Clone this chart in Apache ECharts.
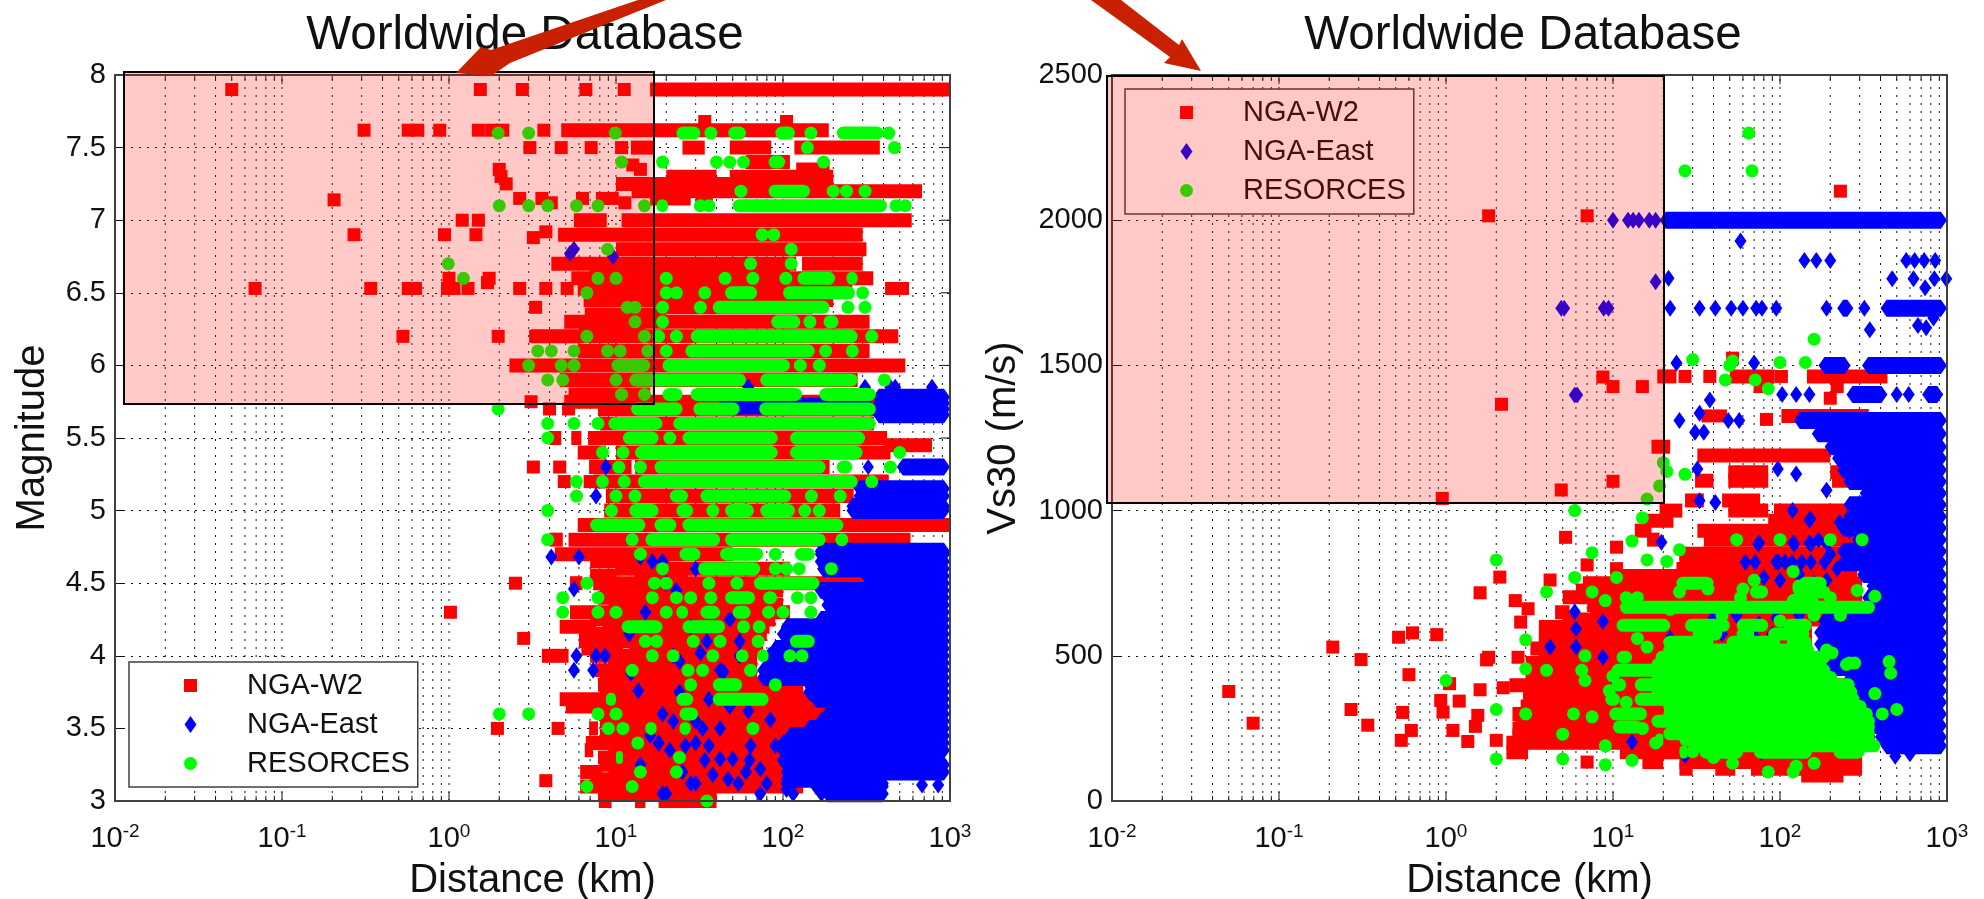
<!DOCTYPE html>
<html><head><meta charset="utf-8">
<style>html,body{margin:0;padding:0;background:#fff}#c{width:1984px;height:899px}</style>
<script src="https://cdn.jsdelivr.net/npm/echarts@6/dist/echarts.min.js"></script>
</head><body><div id="c"></div>
<script>
const seriesNames = ['NGA-W2','NGA-East','RESORCES'];
const titleText = 'Worldwide Database';
const xAxisTitle = 'Distance (km)';
const leftYTitle = 'Magnitude';
const rightYTitle = 'Vs30 (m/s)';
const leftYTicks = [3,3.5,4,4.5,5,5.5,6,6.5,7,7.5,8];
const rightYTicks = [0,500,1000,1500,2000,2500];
const distanceTicks = [0.01,0.02,0.03,0.04,0.05,0.06,0.07,0.08,0.09,0.1,0.2,0.3,0.4,0.5,0.6,0.7,0.8,0.9,1,2,3,4,5,6,7,8,9,10,20,30,40,50,60,70,80,90,100,200,300,400,500,600,700,800,900,1000];

// ---- Left panel: isolated points [distance, magnitude]
const magRedPts = [[.05,7.9],[1.54,7.9],[2.75,7.9],[6.6,7.9],[11.2,7.9],
[.31,7.62],[.57,7.62],[.65,7.62],[.88,7.62],[1.5,7.62],[1.8,7.62],[2.1,7.62],[3.7,7.62],[34,7.68],[105,7.68],
[3.05,7.5],[4.7,7.5],[7.1,7.5],[10.8,7.5],[2,7.35],[2.05,7.3],[2.2,7.25],[12.6,7.38],[14,7.35],[.205,7.14],
[2.65,7.15],[3.6,7.15],[4.1,7.12],[6.3,7.15],[8.3,7.15],[9.5,7.15],[11.3,7.12],
[1.2,7],[1.5,7],[.27,6.9],[.94,6.9],[1.45,6.9],[3.2,6.88],[3.8,6.92],[1,6.6],[1.74,6.6],[1.7,6.57],
[.069,6.53],[.34,6.53],[.57,6.53],[.63,6.53],[.98,6.53],[1.07,6.53],[1.3,6.53],[2.65,6.53],[3.8,6.53],[5.1,6.53],[447,6.53],[520,6.53],
[3.3,6.4],[.53,6.2],[1.97,6.2],[3.3,6.2],[3.1,5.75],[4,5.7],[5.2,5.7],[3.2,5.3],[4.6,5.3],[4.9,5.2],[7,5.2],
[2.5,4.5],[1.02,4.3],[2.8,4.12],[1.95,3.5],[4.5,3.5],[3.8,3.14],[250,4.54],[195,4.48],[230,4.5],[270,4.5],[210,4.52]];
// dense rows seen as continuous bars [magnitude, from km, to km]
const magRedRuns = [[7.9,16,1000],[7.62,4.7,188],[7.5,12.3,17],[7.5,25,34],[7.5,48,85],[7.5,117,380],
[7.4,60,110],[7.35,120,190],[7.3,20,40],[7.3,48,200],[7.25,10,200],[7.2,12.4,680],[7.15,16,28],[7.12,30,38],
[7,5.6,8.8],[7,10.8,590],[6.9,4.5,300],[6.8,10,316],[6.7,4.1,120],[6.7,130,300],[6.65,7,110],[6.6,5.4,347],
[6.53,5.9,260],[6.45,6.4,200],[6.4,20,150],[6.35,6.5,20],[6.3,4.9,330],[6.25,6,15],[6.2,3.1,490],[6.1,5.9,330],[6,2.3,540],
[5.9,4.6,280],[5.8,5.2,16],[5.75,4.9,360],[5.7,7.8,350],[5.6,8,350],[5.5,4,4.7],[5.5,5.4,6.2],[5.5,6.8,420],[5.45,400,780],
[5.4,5.9,8.7],[5.4,10,440],[5.3,6.9,12.4],[5.3,13,190],[5.2,7.3,430],[5.1,8.7,265],[5,8.5,220],[4.9,5.9,1000],
[4.8,4,4.8],[4.8,5.2,580],[4.7,4.3,50],[4.65,7,21],[4.55,7,10],[4.55,13,27],[4.6,10,110],[4.52,185,340],[4.5,5.3,6.3],[4.5,7.3,185],[4.45,8,100],[4.4,7.8,92],[4.35,9,100],[4.3,5.3,110],[4.25,7,90],
[4.2,4.6,7.6],[4.2,8.3,83],[4.15,6,80],[4.1,6,76],[4.05,6.2,11],[4.05,12,76],[4,3.6,5.2],[4,7,70],[3.95,9,70],[3.9,7.5,64],[3.85,8,70],[3.8,7.8,132],[3.75,8,132],[3.7,4.6,145],[3.65,5,360],[3.6,8.4,170],[3.55,8,150],
[3.5,6.9,7.8],[3.5,8.7,132],[3.45,8,110],[3.4,6.6,92],[3.35,6.5,7.3],[3.35,9,92],[3.3,7.8,300],[3.25,8,97],[3.2,6.1,8.3],[3.2,9,102],[3.15,7,102],[3.1,6.1,132],[3.05,7.8,40],[3,7.9,9.4],[3,13,15],[3,18,40]];
const magBluePts = [[62,5.85],[310,5.85],[440,5.85],[470,5.85],[780,5.85],[5.3,6.77],[5.6,6.8],[9.6,6.75],
[8.7,5.3],[7.6,5.1],[4.1,4.68],[6,4.68],[5.6,4.46],[5.8,4],[5.6,3.9],[7.6,4],[7.3,3.9],[8.6,4],[12.3,3.88],[13.6,3.76],
[14,4.68],[15,4.3],[16.5,4.65],[19,4.65],[23,4.45],[19,3.6],[18,3.4],[21,3.35],[26,3.38],[14,3.25],[22,4],[32,4.02],[42,3.9],[42,3.5],[33,3.5],[48,3.65],[62,3.62],
[28,3.12],[54,3.12],[20,3.05],[73,3.22],[105,3.08],[73,3.05],[36,3.38],[64,3.38],[90,3.38],[680,3.11],[850,3.11],[170,3.05],[115,3.05],
[30,3.12],[19,3.05],[42,3.29],[50,3.29],[30,3.4],[18,3.4],[44,3.89],[55,4],[24,3.96],[80,3.12],[105,3.12],[63,3.28],[84,3.56],[34,3.28],[25,3.2],[38,3.18],[47,3.15],[60,3.2],[28,4.2],[35,4.1],[55,4.1],[48,4.25],[20,4.5],[30,4.6],[24,3.75],[36,3.7],[12,4.15],[16,3.45],[22,3.55],[30,3.55]];
const magBlueRuns = [[5.78,345,1000],[5.74,345,1000],[5.7,345,1000],[5.66,345,1000],[5.72,40,350],[5.3,480,1000],[5.3,300,350],[5.15,265,1000],[5.1,265,1000],[5.03,240,1000],[5,240,1000],
[4.72,155,1000],[4.7,155,1000],[4.65,155,1000],[4.6,160,1000],[4.55,290,1000],[4.5,300,1000],[4.45,155,1000],[4.4,170,1000],[4.35,170,1000],[4.3,185,1000],[4.25,155,1000],[4.2,97,1000],[4.15,92,1000],[4.1,185,1000],[4.05,83,1000],[4,76,1000],[3.95,76,1000],[3.9,70,1000],[3.85,70,1000],[3.8,132,1000],[3.75,132,1000],[3.7,145,1000],[3.65,360,1000],[3.6,170,1000],[3.55,155,1000],[3.5,132,1000],[3.45,102,1000],[3.4,92,1000],[3.35,92,1000],[3.3,300,390],[3.28,92,250],[3.25,97,1000],[3.2,97,1000],[3.15,97,160],[3.12,155,430],[3.1,145,430],[3.05,170,430]];
const magGreenPts = [[1.97,7.6],[3,7.6],[9.9,7.6],[37,7.6],[147,7.6],[430,7.6],[140,7.5],[465,7.5],[10.8,7.4],[19,7.4],[40,7.4],[48,7.4],[58,7.4],[175,7.4],
[56,7.2],[200,7.2],[240,7.2],[310,7.2],[2,7.1],[3,7.1],[3.9,7.1],[5.8,7.1],[7.8,7.1],[14.8,7.1],[32,7.1],[36,7.1],[475,7.1],[540,7.1],[75,6.9],[88,6.9],[8.9,6.8],[112,6.8],[.99,6.7],[64,6.7],[112,6.7],
[1.22,6.6],[7.8,6.6],[10,6.6],[20,6.6],[45,6.6],[66,6.6],[104,6.6],[6.7,6.5],[20,6.5],[23,6.5],[34,6.5],[300,6.5],[11.7,6.4],[13,6.4],[19,6.4],[32,6.4],[245,6.4],[310,6.4],[13,6.3],[19,6.3],[145,6.3],
[6.7,6.2],[14.8,6.2],[18,6.2],[23,6.2],[340,6.2],[3.4,6.1],[4.1,6.1],[5.6,6.1],[8.9,6.1],[10.6,6.1],[15.5,6.1],[20,6.1],[180,6.1],[260,6.1],[3,6],[4.7,6],[5.6,6],[127,6],[165,6],[3.9,5.9],[4.8,5.9],[10,5.9],[405,5.9],[10.8,5.8],[14.8,5.8],
[1.97,5.7],[3.9,5.6],[5.6,5.6],[7.8,5.6],[3.9,5.5],[21,5.5],[8.3,5.4],[11,5.4],[500,5.4],[10.4,5.3],[14,5.3],[440,5.3],[5.8,5.2],[8.3,5.2],[11.2,5.2],[340,5.2],[5.8,5.1],[10,5.1],[13,5.1],[148,5.1],[220,5.1],
[3.9,5],[9.4,5],[38,5],[135,5],[165,5],[3.9,4.8],[12.5,4.8],[225,4.8],[14,4.7],[90,4.7],[19,4.6],[90,4.6],[105,4.6],[125,4.6],[195,4.6],[6.7,4.5],[17,4.5],[20,4.5],[36,4.5],[53,4.5],
[4.8,4.4],[7.8,4.4],[16.5,4.4],[23,4.4],[28,4.4],[37,4.4],[122,4.4],[147,4.4],[4.8,4.3],[7.8,4.3],[10,4.3],[20,4.3],[82,4.3],[100,4.3],[147,4.3],[58,4.2],[72,4.2],[15,4.1],[17.5,4.1],[29,4.1],[42,4.1],[71,4.1],
[16.5,4],[22,4],[38,4],[57,4],[110,4],[130,4],[12.5,3.9],[27,3.9],[33,3.9],[64,3.9],[28,3.8],[90,3.8],[2,3.6],[3,3.6],[7.8,3.6],[10,3.6],[9,3.5],[11,3.5],[66,3.5],[13.5,3.4],[24,3.3],[14,3.2],[23,3.2],[6.7,3.1],[12.5,3.1],[35,3]];
const magGreenRuns = [[7.6,23,32],[7.6,47,60],[7.6,90,118],[7.6,210,400],[7.4,82,103],[7.2,82,145],[7.1,17.5,20.5],[7.1,50,420],[6.6,122,205],[6.6,240,280],[6.5,45,70],[6.5,100,270],[6.4,38,190],[6.3,85,127],[6.3,175,215],
[6.2,28,280],[6.1,26,155],[6.1,240,280],[6,9.4,16],[6,19,110],[5.9,12,60],[5.9,73,280],[5.8,19,25],[5.8,28,130],[5.8,165,360],[5.7,12.3,25],[5.7,29,55],[5.7,72,360],[5.6,9,19],[5.6,22,360],[5.5,11,18],[5.5,25,93],[5.5,110,310],
[5.4,13,93],[5.4,110,300],[5.3,17,180],[5.3,210,260],[5.2,13.5,280],[5.1,21,27],[5.1,32,112],[5,12,18],[5,23,29],[5,45,67],[5,73,118],[4.9,7,15],[4.9,17,23],[4.9,25,230],[4.8,15,42],[4.8,45,180],
[4.7,24,32],[4.7,42,76],[4.7,118,155],[4.6,31,73],[4.5,67,165],[4.4,45,68],[4.4,76,92],[4.3,23,27],[4.3,32,42],[4.3,50,64],[4.2,10.8,19],[4.2,25,45],[4.1,110,155],[4,70,82],[3.8,38,57],[3.7,8.7,10],[3.7,23,29],[3.7,38,82],[3.6,24,31],[3.5,15,17.5],[3.5,24,28],[3.3,10,11]];

// ---- Right panel: isolated points [distance, Vs30]
const vsRedPts = [[1.8,2015],[7,2015],[230,2100],[2.15,1366],[8.7,1460],[10,1427],[15,1427],[27,1462],[38,1462],[52,1525],[102,1462],[76,1427],[220,1427],[200,1387],[37,1326],[44,1326],[83,1314],[420,1314],
[.05,377],[.07,268],[.21,530],[.31,487],[.27,315],[.34,261],[.52,564],[.63,579],[.88,573],[.6,435],[.55,305],[.62,243],[.54,209],[.93,346],[.96,306],[1.05,404],[1.2,344],[1.6,383],[1.55,295],[1.5,257],[1.1,243],[1.35,205],[2,209],[2.2,390],[2.1,771],[1.6,717],
[.95,1042],[4.9,1071],[10,1101],[5.2,908],[7,813],[10.5,874],[10.5,800],[4.2,761],[1.8,495],[1.75,486],[2.7,495],[2.6,690],[3.1,662],[2.8,616],[7,134]];
const vsRedRuns = [[1462,18.4,24],[1462,50,93],[1462,145,440],[1326,102,340],[1220,17,22],[1190,32,200],[1132,49,85],[1132,200,310],[1103,31,40],[1103,49,85],[1103,205,370],[1035,27,35],[1035,45,76],[1000,19,26],[1000,49,85],[1000,92,310],
[965,14.5,23],[965,85,310],[931,13.5,17],[931,32,310],[900,16,19],[900,35,285],[851,25,285],[825,25,285],[799,24,285],[775,10,290],[750,6.6,310],[725,6,310],[702,5,310],[675,7,310],[650,4.5,5.5],[650,7.3,310],[625,5,200],[599,3.6,155],[575,3.6,155],[550,3.6,155],[525,3.2,155],[501,3.6,155],[475,3,155],[450,3,155],[425,3,200],[399,2.4,240],[375,2.9,300],[350,2.9,370],[325,2.8,370],[300,2.5,370],[275,2.6,370],[250,2.5,370],[225,2.5,370],[201,2.3,370],[168,2.3,3.1],[168,11,310],[134,15,20],[134,25,310],[111,25,30],[111,41,54],[111,67,310],[88,134,240]];
const vsBluePts = [[10,2000],[12.3,2000],[13.2,2000],[14.3,2000],[16.5,2000],[18,2000],[58,1928],[140,1861],[165,1861],[200,1861],[570,1861],[640,1861],[730,1861],[850,1861],[470,1798],[630,1798],[840,1798],[990,1798],[740,1767],[18,1788],[21.5,1800],[4.9,1697],[5.1,1697],[8.8,1697],[9.4,1697],[22,1697],[33,1697],[41,1697],[51,1697],[60,1697],[72,1697],[78,1697],[95,1697],[190,1697],[320,1697],[345,1623],[670,1637],[750,1630],[830,1663],[5.9,1398],[6.1,1398],[24,1508],[70,1508],[38,1381],[33,1335],[103,1400],[125,1400],[150,1400],[500,1400],[590,1400],[25,1310],[49,1310],[57,1310],[31,1270],[35,1270],
[32,1143],[33,1034],[41,1028],[19.5,891],[97,1143],[125,1126],[119,1000],[152,971],[228,960],[122,885],[153,885],[74,885],[62,822],[71,822],[98,822],[118,822],[153,822],[185,822],[5.9,652],[8.7,618],[6,593],[4.2,530],[6,530],[8.7,495],[71,564],[27,157],[77,168],[490,154],[600,163],[13,203],[28,260],[10,427],
[130,780],[100,760],[80,770],[160,750],[190,760],[220,800],[200,850],[170,900],[260,930],[150,968],[190,1070],[250,955],[135,823],[107,823],[95,823],[75,888],[120,888],[150,888],[190,888],[60,580],[90,575],[45,575],[22,560],[40,630],[75,610],[95,630],[130,640],[55,640]];
const vsBlueRuns = [[2000,19,1000],[1697,220,275],[1697,400,1000],[1500,170,265],[1500,310,1000],[1400,250,440],[1400,710,950],[1310,121,1000],[1265,155,1000],[1220,185,1000],[1180,205,1000],[1140,220,1000],[1100,240,1000],[1060,300,1000],[1020,240,1000],[980,240,1000],[940,220,1000],[900,270,1000],[860,220,1000],[820,220,1000],[780,290,1000],[740,330,1000],[700,310,1000],[660,330,1000],[620,170,1000],[580,160,1000],[540,160,1000],[500,160,1000],[460,160,1000],[420,240,1000],[380,160,1000],[340,160,1000],[300,160,1000],[260,160,1000],[220,370,1000],[190,400,1000]];
const vsGreenPts = [[65,2300],[27,2170],[68,2170],[160,1590],[30,1520],[52,1515],[50,1500],[100,1510],[142,1510],[47,1450],[71,1450],[85,1420],
[20,1165],[21,1135],[19,1085],[16,1040],[27,1125],[5.9,1000],[15,975],[13,895],[7.5,855],[2,830],[21,825],[16,830],[25,865],[55,900],[100,900],[200,900],[310,900],[5.9,770],[4,720],[7.5,720],[10.5,770],[290,725],[370,705],
[3,555],[6.8,500],[3,455],[4,450],[6.5,450],[6.8,415],[1,415],[2,315],[3,300],[5.8,300],[7.5,290],[5,230],[2,145],[5,145],[9,190],[9,125],[13,140],[85,100],[120,100],[260,475],[280,475],[450,480],[460,440],[410,300],[500,315],[370,370],[160,130],[125,120],
[9,690],[12,700],[25,720],[37,730],[60,730],[130,730],[200,700],[230,640],[14,700],[250,470],[10,430],[12,340],[9.5,380],[15,250],[18,200],[30,170],[40,150],[52,130],[130,740],[120,790],[70,760],[58,700],[22,660],[160,640],[45,640],[100,620],[16,530],[14,560],[190,520],[205,510]];
const vsGreenRuns = [[750,24,40],[720,66,85],[750,130,190],[720,130,200],[690,110,170],[667,11,370],[605,10.5,22],[605,27,50],[605,55,85],[605,105,155],[575,30,45],[575,55,70],[575,85,150],[547,20,40],[547,48,100],[547,110,155],[520,20,160],[495,10.5,13],[495,18,200],[470,17,190],[450,9.8,200],[425,17,220],[400,9.8,12],[400,13.5,280],[375,17,290],[350,9,11],[350,13.5,300],[325,20,330],[300,9.5,16],[300,20,360],[275,17,370],[255,10,15],[255,23,370],[232,20,370],[210,18,20],[210,25,370],[190,30,400],[168,25,28],[168,33,60],[168,70,155],[168,210,320]];

const GRIDS = [{left:115,top:75,width:835,height:726},{left:1112,top:75,width:835,height:726}];
const INK = '#111', AXIS='#404040', RED='#ff0000', BLUE='#0000ff', GREEN='#00ff00', FONT='"Liberation Sans",Arial,sans-serif';

function frameSeries(i, ticks){ // dotted grid + ticks drawn through the axes
  return {type:'custom',xAxisIndex:i,yAxisIndex:i,z:1,silent:true,data:distanceTicks.map(d=>[d,ticks[0]]),encode:{x:0,y:1},
    renderItem(p,api){
      const d=api.value(0), a=api.coord([d,ticks[0]]), b=api.coord([d,ticks[ticks.length-1]]);
      const major=Math.abs(Math.log10(d)-Math.round(Math.log10(d)))<1e-6, len=major?9:5, inner=d>0.01&&d<1000;
      const c=[];
      if(inner) c.push({type:'line',shape:{x1:a[0],y1:a[1],x2:b[0],y2:b[1]},style:{stroke:INK,lineWidth:1,lineDash:[2,6]}});
      c.push({type:'line',shape:{x1:a[0],y1:a[1],x2:a[0],y2:a[1]-len},style:{stroke:INK,lineWidth:1}});
      c.push({type:'line',shape:{x1:a[0],y1:b[1],x2:a[0],y2:b[1]+len},style:{stroke:INK,lineWidth:1}});
      return {type:'group',children:c};
    }};
}
function rightTicks(i,ticks){
  return {type:'custom',xAxisIndex:i,yAxisIndex:i,z:1,silent:true,data:ticks.map(v=>[1000,v]),encode:{x:0,y:1},
    renderItem(p,api){const a=api.coord([1000,api.value(1)]);return {type:'line',shape:{x1:a[0],y1:a[1],x2:a[0]-9,y2:a[1]},style:{stroke:INK,lineWidth:1}};}};
}
function runSeries(i,name,runs,kind,z,color){
  return {type:'custom',name,xAxisIndex:i,yAxisIndex:i,z,silent:true,data:runs,encode:{x:1,y:0},itemStyle:{color},
    renderItem(p,api){
      const y=api.value(0), a=api.coord([api.value(1),y]), b=api.coord([api.value(2),y]);
      const x1=a[0], x2=b[0], yy=a[1];
      if(kind==='rect') return {type:'rect',shape:{x:x1,y:yy-7,width:x2-x1,height:14},style:{fill:RED}};
      if(kind==='round') return {type:'rect',shape:{x:x1,y:yy-6.5,width:x2-x1,height:13,r:6.5},style:{fill:GREEN}};
      return {type:'polygon',shape:{points:[[x1,yy],[x1+6,yy-8.5],[x2-6,yy-8.5],[x2,yy],[x2-6,yy+8.5],[x1+6,yy+8.5]]},style:{fill:BLUE}};
    }};
}
function ptSeries(i,name,pts,symbol,size,color,z){
  return {type:'scatter',name,xAxisIndex:i,yAxisIndex:i,z,silent:true,clip:false,data:pts,symbol,symbolSize:size,itemStyle:{color,opacity:1},emphasis:{disabled:true}};
}
function panel(i,rP,rR,bP,bR,gP,gR,ticks){
  return [frameSeries(i,ticks),rightTicks(i,ticks),
    ptSeries(i,seriesNames[0],rP,'rect',13,RED,2),runSeries(i,seriesNames[0],rR,'rect',2,RED),
    ptSeries(i,seriesNames[1],bP,'diamond',[12,17],BLUE,3),runSeries(i,seriesNames[1],bR,'dia',3,BLUE),
    ptSeries(i,seriesNames[2],gP,'circle',[13,13],GREEN,4),runSeries(i,seriesNames[2],gR,'round',4,GREEN)];
}
const xAxisOf=i=>({type:'log',logBase:10,gridIndex:i,min:0.01,max:1000,name:xAxisTitle,nameLocation:'middle',nameGap:60,
  nameTextStyle:{fontFamily:FONT,fontSize:40,color:INK},splitLine:{show:false},minorTick:{show:false},axisTick:{show:false},
  axisLine:{show:false},
  axisLabel:{margin:21,formatter:v=>`{b|10}{s|${Math.round(Math.log10(v))}}`,rich:{b:{fontFamily:FONT,fontSize:29,color:INK,lineHeight:34},s:{fontFamily:FONT,fontSize:19,color:INK,verticalAlign:'top',lineHeight:34,padding:[0,0,14,0]}}}});
const yAxisOf=(i,min,max,interval,nm,gap,fs)=>({type:'value',gridIndex:i,min,max,interval,name:nm,nameLocation:'middle',nameGap:gap,nameRotate:90,
  nameTextStyle:{fontFamily:FONT,fontSize:40,color:INK},axisLine:{show:false},axisTick:{show:true,inside:true,length:9,lineStyle:{color:INK,width:1}},
  splitLine:{show:true,lineStyle:{color:INK,width:1,type:[2,6]}},
  axisLabel:{fontFamily:FONT,fontSize:fs,color:INK,margin:9,formatter:v=>String(v)}});
const rectPath='path://M0,0H10V10H0Z', diaPath='path://M6,0L12,8.5L6,17L0,8.5Z';
const legendOf=(l,t)=>({left:l,top:t,orient:'vertical',data:[
    {name:seriesNames[0],icon:rectPath,itemStyle:{color:RED}},{name:seriesNames[1],icon:diaPath,itemStyle:{color:BLUE}},{name:seriesNames[2],icon:'circle',itemStyle:{color:GREEN}}],
  selectedMode:false,itemWidth:13,itemHeight:17,itemGap:10,padding:[9,8,9,55],backgroundColor:'#fff',borderColor:AXIS,borderWidth:1.5,z:5,
  textStyle:{fontFamily:FONT,fontSize:29,color:INK,padding:[0,0,0,45],lineHeight:29}});
const overlay=(x,y,w,h)=>({type:'rect',z:10,silent:true,shape:{x,y,width:w,height:h},style:{fill:'rgba(255,10,0,0.22)',stroke:'#000',lineWidth:2}});
const ARROW='#c82000';
const option={animation:false,backgroundColor:'#fff',
  title:[{text:titleText,left:520,top:7,textAlign:'center',textStyle:{fontFamily:FONT,fontSize:47.5,fontWeight:'normal',color:INK}},
         {text:titleText,left:1518,top:7,textAlign:'center',textStyle:{fontFamily:FONT,fontSize:47.5,fontWeight:'normal',color:INK}}],
  grid:GRIDS.map(g=>({...g,outerBoundsMode:'none',containLabel:false,show:true,borderColor:AXIS,borderWidth:2,backgroundColor:'transparent',z:6})),
  xAxis:[xAxisOf(0),xAxisOf(1)],
  yAxis:[yAxisOf(0,leftYTicks[0],leftYTicks[leftYTicks.length-1],0.5,leftYTitle,62,29),yAxisOf(1,rightYTicks[0],rightYTicks[rightYTicks.length-1],500,rightYTitle,88,29)],
  legend:[legendOf(129,662),legendOf(1125,89)],
  series:[...panel(0,magRedPts,magRedRuns,magBluePts,magBlueRuns,magGreenPts,magGreenRuns,leftYTicks),
          ...panel(1,vsRedPts,vsRedRuns,vsBluePts,vsBlueRuns,vsGreenPts,vsGreenRuns,rightYTicks)],
  graphic:[overlay(124,72,530,332),overlay(1107,76,557,427),
    {type:'polygon',z:12,silent:true,shape:{points:[[456,73],[481,47],[491,50],[638,0],[666,0],[510,63],[491,76]]},style:{fill:ARROW}},
    {type:'polygon',z:12,silent:true,shape:{points:[[1201,71],[1182,39],[1179,45],[1121,0],[1091,0],[1170,57],[1164,63]]},style:{fill:ARROW}}]
};
echarts.init(document.getElementById('c'),null,{renderer:'canvas'}).setOption(option);
</script></body></html>
